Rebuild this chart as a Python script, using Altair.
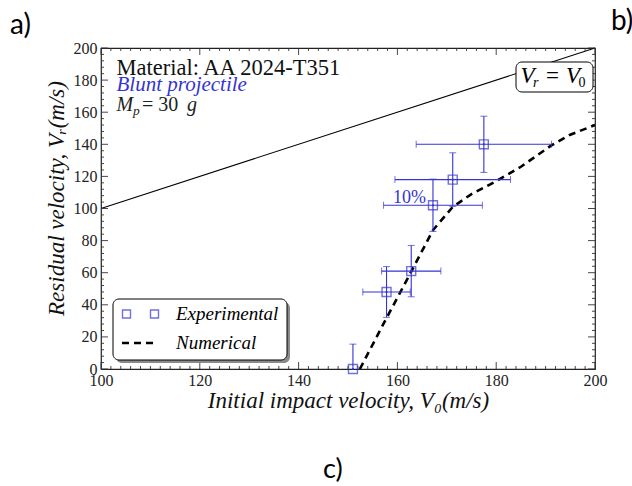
import altair as alt
import pandas as pd

W, H = 494, 321
SERIF = "Liberation Serif"
BLUE = "#3434d2"

# ---- data ----
exp_v0 = [151.0, 157.8, 162.8, 167.2, 171.2, 177.5]
exp_vr = [0.0, 48.0, 61.0, 102.0, 118.0, 140.0]
exp_v0_err = [0.0, 4.8, 6.0, 10.0, 11.7, 13.7]
exp_vr_err = [15.5, 15.8, 16.0, 16.3, 16.7, 17.5]

num_v0 = [152.4, 157.5, 162.0, 167.2, 171.2, 175.0, 180.0, 185.0, 191.0, 195.0, 200.0]
num_vr = [0.0, 30.0, 56.0, 86.5, 101.0, 109.0, 117.0, 126.0, 139.0, 146.0, 152.0]

diag_v0 = [100, 200]
diag_vr = [100, 200]

x_major = [100, 120, 140, 160, 180, 200]
y_major = [0, 20, 40, 60, 80, 100, 120, 140, 160, 180, 200]
x_minor = [v for v in range(102, 200, 2) if v % 20]
y_minor = [v for v in range(4, 200, 4) if v % 20]

exp = pd.DataFrame({"v0": exp_v0, "vr": exp_vr, "dx": exp_v0_err, "dy": exp_vr_err})
exp["x_lo"] = exp.v0 - exp.dx
exp["x_hi"] = exp.v0 + exp.dx
exp["y_lo"] = exp.vr - exp.dy
exp["y_hi"] = exp.vr + exp.dy
exph = exp[exp.dx > 0]
num = pd.DataFrame({"v0": num_v0, "vr": num_vr})
diag = pd.DataFrame({"v0": diag_v0, "vr": diag_vr})

xs = alt.Scale(domain=[100, 200], nice=False, zero=False)
ys = alt.Scale(domain=[0, 200], nice=False, zero=False)
one = pd.DataFrame({"a": [0]})

XAX = alt.Axis(
    values=x_major, format="d", ticks=False, domain=False, grid=False,
    labelFont=SERIF, labelFontSize=16, labelColor="#222", labelPadding=3,
    labelFlush=False, labelOverlap=False,
    title="Initial impact velocity, V₀(m/s)", titleFont=SERIF, titleFontSize=23,
    titleFontStyle="italic", titleFontWeight="normal", titleColor="#111", titlePadding=1)
YAX = alt.Axis(
    values=y_major, format="d", ticks=False, domain=False, grid=False,
    labelFont=SERIF, labelFontSize=16, labelColor="#222", labelPadding=4,
    labelFlush=False, labelOverlap=False,
    title="Residual velocity, Vᵣ(m/s)", titleFont=SERIF, titleFontSize=23,
    titleFontStyle="italic", titleFontWeight="normal", titleColor="#111", titlePadding=5,
    titleY=150)


def X(f):
    return alt.X(f, scale=xs, axis=XAX)


def Y(f):
    return alt.Y(f, scale=ys, axis=YAX)


diag_line = alt.Chart(diag).mark_line(color="black", strokeWidth=1.1).encode(
    x=X("v0:Q"), y=Y("vr:Q"))


# inward ticks
def xticks(vals, length):
    d = pd.DataFrame({"v0": vals})
    b = alt.Chart(d).mark_rule(color="#333", strokeWidth=0.9).encode(
        x=X("v0:Q"), y=alt.value(H), y2=alt.value(H - length))
    t = alt.Chart(d).mark_rule(color="#333", strokeWidth=0.9).encode(
        x=X("v0:Q"), y=alt.value(0), y2=alt.value(length))
    return [b, t]


def yticks(vals, length):
    d = pd.DataFrame({"vr": vals})
    l = alt.Chart(d).mark_rule(color="#333", strokeWidth=0.9).encode(
        y=Y("vr:Q"), x=alt.value(0), x2=alt.value(length))
    r = alt.Chart(d).mark_rule(color="#333", strokeWidth=0.9).encode(
        y=Y("vr:Q"), x=alt.value(W), x2=alt.value(W - length))
    return [l, r]


tick_layers = xticks(x_major, 7) + xticks(x_minor, 3) + yticks(y_major, 7) + yticks(y_minor, 3)

num_line = alt.Chart(num).mark_line(color="black", strokeWidth=2.6, strokeDash=[7, 5]).encode(
    x=X("v0:Q"), y=Y("vr:Q"))

vbar = alt.Chart(exp).mark_rule(color=BLUE, strokeWidth=1.1, clip=True).encode(
    x=X("v0:Q"), y=Y("y_lo:Q"), y2="y_hi:Q")
vcap_hi = alt.Chart(exp).mark_tick(color=BLUE, orient="horizontal", size=7, thickness=1).encode(
    x=X("v0:Q"), y=Y("y_hi:Q"))
vcap_lo = alt.Chart(exp[exp.y_lo > 0]).mark_tick(color=BLUE, orient="horizontal", size=7, thickness=1).encode(
    x=X("v0:Q"), y=Y("y_lo:Q"))
hbar = alt.Chart(exph).mark_rule(color=BLUE, strokeWidth=1.1).encode(
    y=Y("vr:Q"), x=X("x_lo:Q"), x2="x_hi:Q")
hcap_lo = alt.Chart(exph).mark_tick(color=BLUE, orient="vertical", size=7, thickness=1).encode(
    x=X("x_lo:Q"), y=Y("vr:Q"))
hcap_hi = alt.Chart(exph).mark_tick(color=BLUE, orient="vertical", size=7, thickness=1).encode(
    x=X("x_hi:Q"), y=Y("vr:Q"))
squares = alt.Chart(exp).mark_point(shape="square", filled=False, color=BLUE, size=80, strokeWidth=1.4).encode(
    x=X("v0:Q"), y=Y("vr:Q"))
dots = alt.Chart(exp).mark_point(shape="circle", filled=True, color=BLUE, size=5, opacity=1).encode(
    x=X("v0:Q"), y=Y("vr:Q"))


def txt(s, x, y, size=19, color="black", style="normal", font=SERIF, align="left", weight="normal"):
    return alt.Chart(one).mark_text(text=s, font=font, fontSize=size, color=color, fontStyle=style,
                                    fontWeight=weight, align=align, baseline="alphabetic").encode(
        x=alt.value(x), y=alt.value(y))


annot = [
    txt("Material: AA 2024-T351", 15.5, 27, size=22.5, color="#111"),
    txt("Blunt projectile", 15.5, 42.5, size=21, color=BLUE, style="italic"),
    txt("M", 15.5, 63, size=20, style="italic", color="#222"),
    txt("p", 32, 67, size=13.5, style="italic", color="#222"),
    txt("= 30", 41, 63, size=20, color="#222"),
    txt("g", 86, 63, size=20, style="italic", color="#222"),
    txt("10%", 292, 155, size=18, color=BLUE),
]

vbox = alt.Chart(one).mark_rect(fill="white", stroke="black", strokeWidth=1, cornerRadius=6).encode(
    x=alt.value(415), x2=alt.value(492), y=alt.value(14), y2=alt.value(44))
vbox_txt = [
    txt("V", 419.5, 35, size=23, style="italic"),
    txt("r", 432, 38.5, size=14, style="italic"),
    txt("=", 445, 35, size=23),
    txt("V", 465, 35, size=23, style="italic"),
    txt("0", 477.5, 38.5, size=14),
]

leg_shadow = alt.Chart(one).mark_rect(fill="#8a8a8a", cornerRadius=6).encode(
    x=alt.value(15), x2=alt.value(189), y=alt.value(254), y2=alt.value(315))
leg_box = alt.Chart(one).mark_rect(fill="white", stroke="black", strokeWidth=1, cornerRadius=6).encode(
    x=alt.value(12), x2=alt.value(186), y=alt.value(251), y2=alt.value(312))
leg_sq1 = alt.Chart(one).mark_point(shape="square", filled=False, color=BLUE, size=64, strokeWidth=1.4).encode(
    x=alt.value(25.5), y=alt.value(266))
leg_sq2 = alt.Chart(one).mark_point(shape="square", filled=False, color=BLUE, size=64, strokeWidth=1.4).encode(
    x=alt.value(53.5), y=alt.value(266))
leg_dash = alt.Chart(one).mark_rule(color="black", strokeWidth=2.6, strokeDash=[7, 5]).encode(
    x=alt.value(21), x2=alt.value(57), y=alt.value(295))
leg_txt = [
    txt("Experimental", 75, 272, size=19, style="italic"),
    txt("Numerical", 75, 301, size=19, style="italic"),
]

letters = [
    txt("a)", -91, -14, size=28, font="Lato", color="black"),
    txt("b)", 510, -18, size=28, font="Lato", color="black"),
    txt("c)", 222, 430, size=27, font="Lato", color="black"),
]

layers = ([diag_line] + tick_layers + [num_line, vbar, vcap_hi, vcap_lo, hbar, hcap_lo, hcap_hi,
          squares, dots] + annot + [vbox] + vbox_txt +
          [leg_shadow, leg_box, leg_sq1, leg_sq2, leg_dash] + leg_txt + letters)

chart = alt.layer(*layers).properties(
    width=W, height=H,
    padding={"left": 101, "top": 48, "right": 37, "bottom": 117},
    autosize=alt.AutoSizeParams(type="none"),
    background="white",
).configure_view(stroke="#222", strokeWidth=1.2)

chart.save("out.html", embed_options={"renderer": "svg", "actions": False})
